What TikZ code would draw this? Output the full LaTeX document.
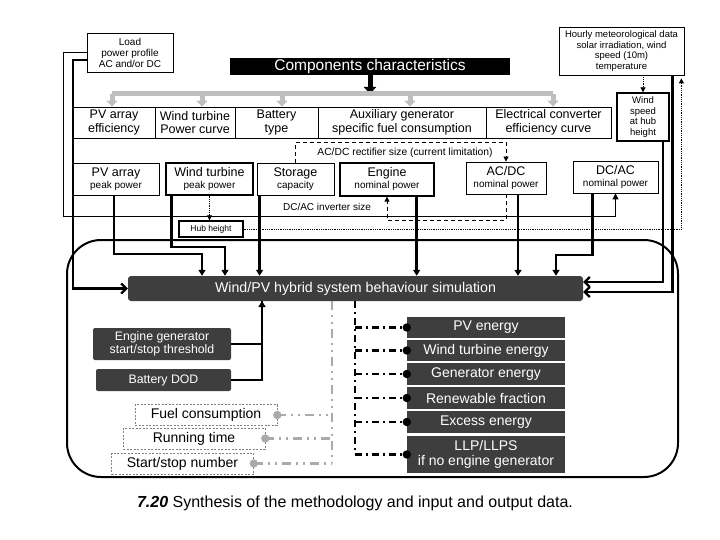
\documentclass[tikz,border=0pt]{standalone}
\usepackage{fontspec}
\setmainfont{Liberation Sans}
\usepackage{tikz}
\usetikzlibrary{arrows.meta}
\definecolor{boxfill}{RGB}{62, 62, 62}
\definecolor{busgray}{RGB}{190, 190, 190}
\definecolor{outgray}{RGB}{170, 170, 170}
\newcommand{\inbox}[2]{{\fontsize{12.5}{13}\selectfont #1}\\{\fontsize{10}{11}\selectfont #2}}

\begin{document}
\begin{tikzpicture}[x=1pt,y=-1pt,
  infobox/.style={draw,line width=0.8pt,inner sep=1pt,align=center},
  charbox/.style={infobox,minimum height=31pt,font=\fontsize{12.5}{13.5}\selectfont},
  sizebox/.style={infobox,minimum height=32pt},
  inputbox/.style={fill=boxfill,text=white,rounded corners=2pt,inner sep=1pt,align=center,font=\fontsize{12.3}{13}\selectfont},
  resbox/.style={fill=boxfill,text=white,inner sep=0pt,align=center,minimum width=158pt,font=\fontsize{14}{15}\selectfont},
  extrabox/.style={draw=gray,dash pattern=on 2pt off 1.5pt,line width=0.6pt,minimum width=142pt,minimum height=21pt,inner sep=0pt,font=\fontsize{14}{15}\selectfont},
  feed/.style={line width=2.4pt,-{Triangle[length=6pt,width=7pt]}},
  sidefeed/.style={line width=2.2pt,-{Straight Barb[length=5pt,width=10pt]}},
  busarrow/.style={busgray,line width=5pt,-{Triangle[length=6pt,width=11pt]}},
  dashlink/.style={line width=0.8pt,dash pattern=on 4pt off 3pt,-{Triangle[length=5pt,width=5pt]}},
  dotlink/.style={line width=0.8pt,densely dotted,-{Triangle[length=5pt,width=5pt]}},
  outlink/.style={line width=2.4pt,dash pattern=on 7pt off 4pt on 2pt off 4pt},
  extralink/.style={outgray,line width=2.4pt,dash pattern=on 9pt off 5pt on 2pt off 5pt on 2pt off 5pt}]
\useasboundingbox (0,0) rectangle (720,540);

% inputs on top
\node[infobox,minimum width=86pt,minimum height=39pt,font=\fontsize{10}{11}\selectfont] (load) at (130,52.5) {Load\\power profile\\AC and/or DC};
\node[infobox,minimum width=125pt,minimum height=48pt,inner sep=0pt,font=\fontsize{9.5}{10.5}\selectfont] (meteo) at (621.5,51) {Hourly meteorological data\\solar irradiation, wind\\speed (10m)\\temperature};
\node[fill=black,text=white,minimum width=280pt,minimum height=17pt,inner sep=0pt,font=\fontsize{15.5}{15.5}\selectfont] (comp) at (370,66.5) {Components characteristics};

% characteristics row
\node[charbox,minimum width=82pt] (pveff) at (114,122.5) {PV array\\efficiency};
\node[charbox,minimum width=80pt] (wtcurve) at (195,122.5) {Wind turbine\\Power curve};
\node[charbox,minimum width=83pt] (battype) at (276.5,122.5) {Battery\\type};
\node[charbox,minimum width=168pt] (auxgen) at (402,122.5) {Auxiliary generator\\specific fuel consumption};
\node[charbox,minimum width=125pt] (convcurve) at (548.5,122.5) {Electrical converter\\efficiency curve};
\node[infobox,line width=1.3pt,minimum width=52pt,minimum height=48pt,font=\fontsize{9.5}{10.8}\selectfont] (windhub) at (643,117) {Wind\\speed\\at hub\\height};

% sizing row
\node[sizebox,minimum width=86pt] (pvpk) at (116,179) {\inbox{PV array}{peak power}};
\node[sizebox,line width=1.3pt,minimum width=87pt] (wtpk) at (209.5,179) {\inbox{Wind turbine}{peak power}};
\node[sizebox,minimum width=77pt] (stor) at (295.5,179) {\inbox{Storage}{capacity}};
\node[sizebox,line width=1.3pt,minimum width=94pt,minimum height=33pt] (eng) at (387,179.5) {\inbox{Engine}{nominal power}};
\node[sizebox,minimum width=80pt] (acdc) at (506,178) {\inbox{AC/DC}{nominal power}};
\node[sizebox,minimum width=85pt] (dcac) at (615.5,177) {\inbox{DC/AC}{nominal power}};
\node[infobox,line width=1.3pt,minimum width=64pt,minimum height=16pt,inner sep=0pt,font=\fontsize{8.5}{9}\selectfont] (hub) at (211,229) {Hub height};
\node[font=\fontsize{10.3}{11}\selectfont] (rectlbl) at (405,153) {AC/DC rectifier size (current limitation)};
\node[font=\fontsize{10}{11}\selectfont] (invlbl) at (327,207) {DC/AC inverter size};

% simulation block
\draw[line width=2pt,rounded corners=34pt] (67,240) rectangle (678,477);
\node[fill=boxfill,text=white,rounded corners=3pt,minimum width=455pt,minimum height=25pt,inner sep=0pt,font=\fontsize{14.2}{15}\selectfont] (sim) at (355.5,288.5) {Wind/PV hybrid system behaviour simulation};
\node[inputbox,minimum width=138pt,minimum height=32pt] (engthr) at (162,344) {Engine generator\\start/stop threshold};
\node[inputbox,minimum width=135pt,minimum height=22pt] (batdod) at (163.5,380) {Battery DOD};

% results
\node[resbox,minimum height=21pt] (pve) at (486,327.5) {PV energy};
\node[resbox,minimum height=21pt] (wte) at (486,350.5) {Wind turbine energy};
\node[resbox,minimum height=22pt] (gen) at (486,374) {Generator energy};
\node[resbox,minimum height=22pt] (ren) at (486,398) {Renewable fraction};
\node[resbox,minimum height=22pt] (exc) at (486,422) {Excess energy};
\node[resbox,minimum height=37pt] (llp) at (486,454.5) {LLP/LLPS\\if no engine generator};
\node[extrabox] (fuel) at (206,415) {Fuel consumption};
\node[extrabox] (run) at (194,438.5) {Running time};
\node[extrabox] (starts) at (182.5,463.5) {Start/stop number};

\node[font=\fontsize{16}{17}\selectfont] (caption) at (355,503) {{\bfseries\itshape 7.20} Synthesis of the methodology and input and output data.};

% characteristics bus
\coordinate (busL) at (112,94);
\coordinate (busR) at (553,94);
\draw[feed,line width=5pt,-{Triangle[length=7pt,width=12pt]}] (comp.south) -- (comp.south |- busL);
\draw[busgray,line width=5pt] (busL) -- (busR);
\foreach \b/\x in {pveff/112,wtcurve/202,battype/282,auxgen/410,convcurve/553}{
  \path (\x,94) coordinate (tap);
  \draw[busarrow] (tap) -- (tap |- \b.north);
}

% load and meteo links
\coordinate (invL) at (63,216);
\coordinate (loadc) at (73,60);
\draw[line width=0.8pt,-{Triangle[length=6pt,width=6pt]}] (load.west) -| (invL) -| (dcac.south);
\draw[sidefeed] ([yshift=-7.5pt]load.west) -- (loadc) |- (sim.west);
\draw[dotlink] (meteo.south -| windhub) -- (windhub.north);
\draw[sidefeed] ([xshift=-7pt]windhub.south east) |- ([yshift=6.5pt]sim.east);
\draw[sidefeed] ([xshift=-12pt]meteo.south east) |- ([yshift=-3.5pt]sim.east);
\draw[dotlink] (hub.east) -| ([xshift=-3pt,yshift=-3pt]meteo.south east);
\draw[dotlink] (wtpk.south) -- (wtpk.south |- hub.north);

% converter sizing
\coordinate (rectbend) at (295.5,142);
\draw[dashlink] (stor.north) -- (rectbend) -| (acdc.north);
\draw[dashlink] (acdc.south) -- ++(0,26) -| (eng.south);

% sizes into the simulation
\coordinate (pvin) at (202,254);
\coordinate (wtin) at (225,247);
\coordinate (dcin) at (556,255);
\coordinate (thrup) at (262,301);
\draw[feed] ([xshift=-2pt]pvpk.south) |- (pvin) -- (pvin |- sim.north);
\draw[feed] ([xshift=6pt]wtpk.south west) |- (wtin) -- (wtin |- sim.north);
\draw[feed] ([xshift=3pt]stor.south west) -- ([xshift=3pt]stor.south west |- sim.north);
\draw[feed] ([xshift=-18pt]eng.south east) -- ([xshift=-18pt]eng.south east |- sim.north);
\draw[feed] ([xshift=12pt]acdc.south) -- ([xshift=12pt]acdc.south |- sim.north);
\draw[feed] ([xshift=20pt]dcac.south west) |- (dcin) -- (dcin |- sim.north);
\draw[line width=2.4pt] (batdod.east) -| (thrup);
\draw[feed] (engthr.east) -| (thrup);

% outputs
\coordinate (outtop) at (355,301);
\coordinate (outbot) at (355,454);
\draw[outlink] (outtop) -- (outbot);
\foreach \o in {pve,wte,gen,ren,exc,llp}{
  \draw[outlink] (outtop |- \o.west) -- (\o.west);
  \fill (\o.west) circle (4.2pt);
}
\coordinate (restop) at (332,301);
\coordinate (resbot) at (332,463);
\draw[extralink] (restop) -- (resbot);
\foreach \e in {fuel,run,starts}{
  \draw[extralink] (\e.east) -- (restop |- \e.east);
  \fill[outgray] (\e.east) circle (4.2pt);
}
\end{tikzpicture}
\end{document}
